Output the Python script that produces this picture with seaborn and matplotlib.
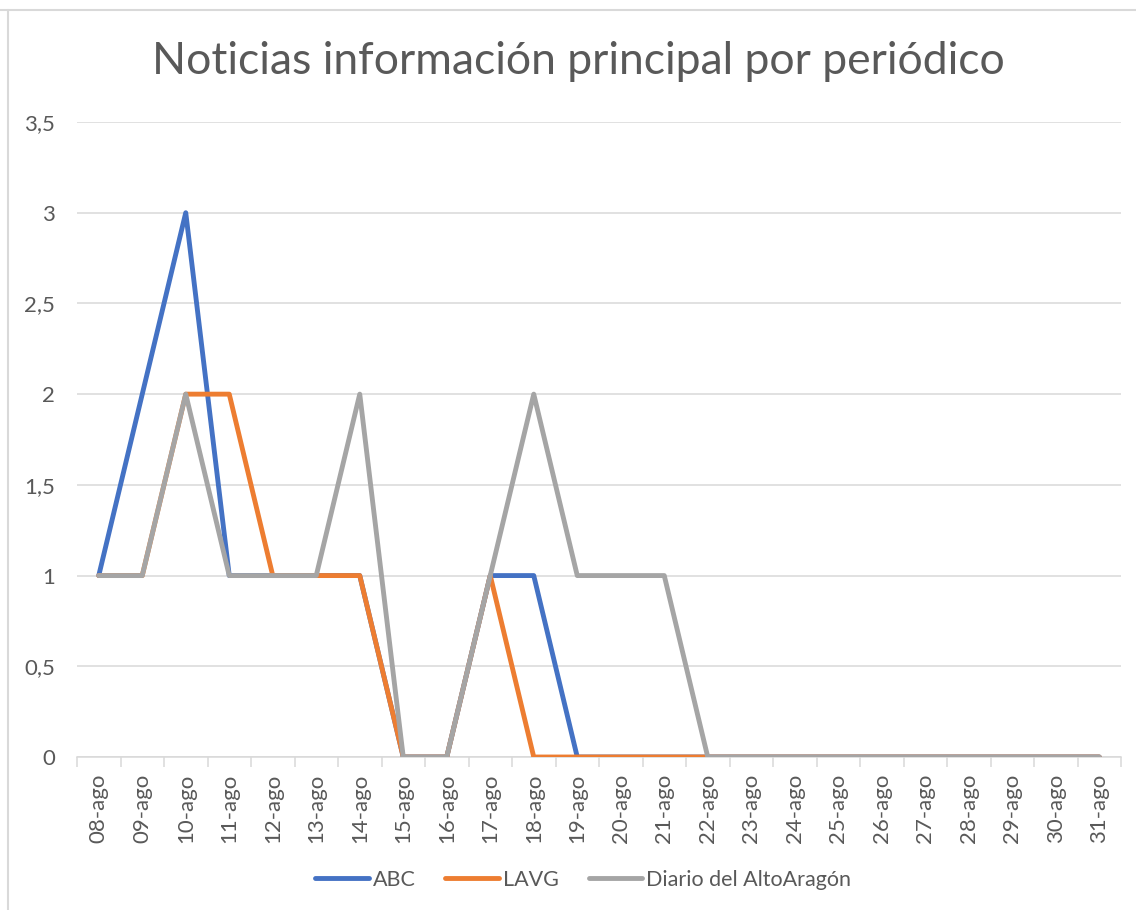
import numpy as np
import pandas as pd
import seaborn as sns
from matplotlib import pyplot as plt
from matplotlib.lines import Line2D
from matplotlib.ticker import FixedLocator, FuncFormatter

days = [f"{d:02d}-ago" for d in range(8, 32)]
abc = [1, 2, 3, 1, 1, 1, 1, 0, 0, 1, 1, 0, 0, 0, 0, 0, 0, 0, 0, 0, 0, 0, 0, 0]
lavg = [1, 1, 2, 2, 1, 1, 1, 0, 0, 1, 0, 0, 0, 0, 0, 0, 0, 0, 0, 0, 0, 0, 0, 0]
diario = [1, 1, 2, 1, 1, 1, 2, 0, 0, 1, 2, 1, 1, 1, 0, 0, 0, 0, 0, 0, 0, 0, 0, 0]
series = ["ABC", "LAVG", "Diario del AltoAragón"]
colors = ["#4472C4", "#ED7D31", "#A5A5A5"]

df = pd.DataFrame({"pos": list(range(len(days))) * 3,
                   "dia": days * 3,
                   "valor": abc + lavg + diario,
                   "periodico": [s for s in series for _ in days]})

sns.set_theme(style="white")
plt.rcParams["font.family"] = ["Lato", "DejaVu Sans"]
text_col = "#595959"

fig = plt.figure(figsize=(11.36, 9.10), dpi=100)
ax = fig.add_axes([77 / 1136, 1 - 757 / 910, (1121 - 77) / 1136, (757 - 122) / 910])

sns.lineplot(data=df, x="pos", y="valor", hue="periodico", palette=colors,
             linewidth=3.5, ax=ax, legend=False, sort=False, zorder=3)
for ln in ax.lines:
    ln.set_solid_capstyle("round")
    ln.set_solid_joinstyle("round")

ax.set_xlim(-0.5, len(days) - 0.5)
ax.set_ylim(0, 3.5)
ax.set_yticks(np.arange(0, 3.51, 0.5))
ax.yaxis.set_major_formatter(FuncFormatter(lambda v, p: f"{v:g}".replace(".", ",")))
ax.grid(axis="y", color="#D9D9D9", linewidth=1.1, zorder=0)
ax.set_xticks(range(len(days)))
ax.set_xticklabels(days, rotation=90)
ax.xaxis.set_minor_locator(FixedLocator(np.arange(-0.5, len(days), 1)))
ax.tick_params(axis="x", which="major", length=0, pad=12, labelsize=16, labelcolor=text_col)
ax.tick_params(axis="x", which="minor", length=7, width=1.1, color="#D9D9D9", bottom=True)
ax.tick_params(axis="y", length=0, pad=16, labelsize=16, labelcolor=text_col)
ax.set_xlabel("")
ax.set_ylabel("")
for side in ["top", "right", "left"]:
    ax.spines[side].set_visible(False)
ax.spines["bottom"].set_color("#D9D9D9")
ax.spines["bottom"].set_linewidth(1.1)
ax.spines["bottom"].set_zorder(1)

fig.text(578 / 1136, 1 - 62 / 910, "Noticias información principal por periódico",
         ha="center", va="center", fontsize=32, color=text_col)

handles = [Line2D([], [], color=c, linewidth=3.5, solid_capstyle="round") for c in colors]
fig.legend(handles, series, loc="center", bbox_to_anchor=(583 / 1136, 1 - 880 / 910), ncol=3,
           frameon=False, fontsize=15.5, labelcolor=text_col, handlelength=2.5, handletextpad=0.15,
           columnspacing=1.4)

# chart area border (top and left visible in the screenshot)
fig.add_artist(Line2D([0, 1], [1 - 10 / 910, 1 - 10 / 910], color="#D9D9D9", linewidth=1.5))
fig.add_artist(Line2D([8 / 1136, 8 / 1136], [0, 1 - 10 / 910], color="#D9D9D9", linewidth=1.5))

fig.savefig("out.png", dpi=100)
